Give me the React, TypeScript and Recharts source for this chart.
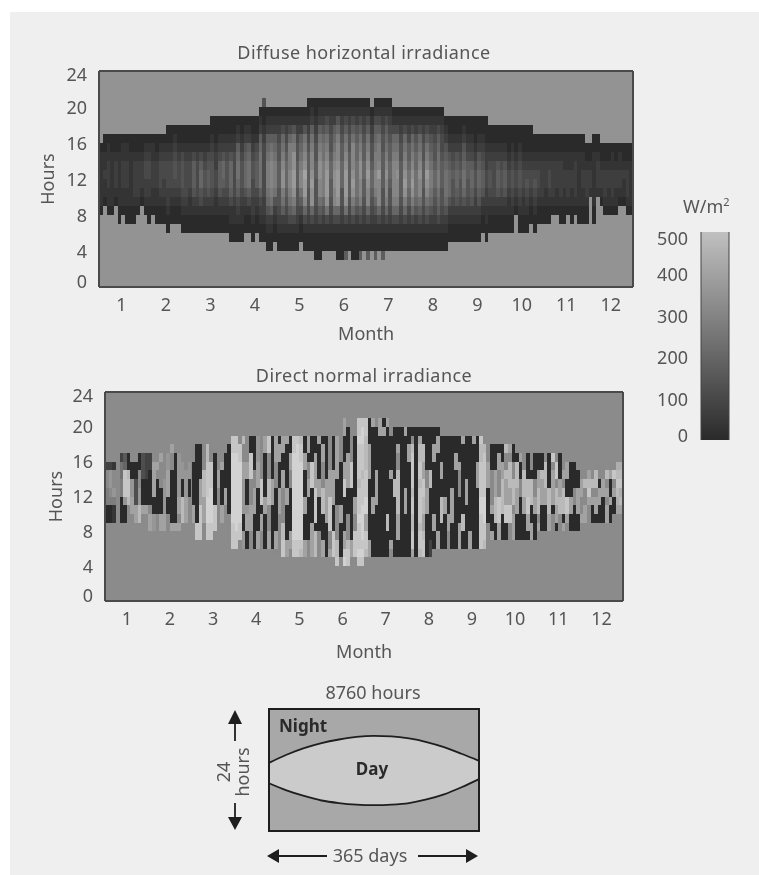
import { Area, AreaChart, Bar, BarChart, CartesianGrid, Cell, ReferenceArea, XAxis, YAxis } from 'recharts'

const months = [1, 2, 3, 4, 5, 6, 7, 8, 9, 10, 11, 12]
const hourTicks = [0, 4, 8, 12, 16, 20, 24]
const scaleTicks = [0, 100, 200, 300, 400, 500]
const scaleMinorTicks = [0, 20, 40, 60, 80, 100, 120, 140, 160, 180, 200, 220, 240, 260, 280, 300, 320, 340, 360, 380, 400, 420, 440, 460, 480, 500]

// each string is one column of cells, from the lowest hour upwards
// '.' is night, a hex digit is the irradiance in steps of 34 W/m2 (diffuse) or 40 W/m2 (direct)
const diffuseFirstHour = 3
const diffuseStep = 34
const diffuseJan = ['.....01111110.....', '......01121100....', '.....011222110....', '.....011111100....', '......01222100....', '....0011111100....', '.....011222110....', '....0011222110....', '....0011111100....', '....0012222100....', '.....012222100....', '......01222100....']
const diffuseFeb = ['.....012233210....', '....0012233210....', '.....011222110....', '....0011222100....', '....0012333210....', '....0012233210....', '...001223332100...', '....00123332100...', '....00123443210...', '....00123332100...', '...001234443100...', '...001233332100...']
const diffuseMar = ['...001123332100...', '...001245553100...', '...001233332100...', '...001346653100...', '...001234432100...', '...001245543100...', '...0012344432100..', '...0011233221000..', '...0012455532100..', '...0012356642100..', '...0012344432100..', '..00113566642100..']
const diffuseApr = ['..00112333332100..', '..00123567765210..', '..00112344432100..', '...0012466654210..', '...0013577765210..', '..00122334432100..', '...0012355543100..', '..001235777765210.', '..0012233333321004', '.0012467888765210.', '.0012578999875210.', '..001247888765210.']
const diffuseMay = ['.0012344555443210.', '.0012578aa9876310.', '.0012345666543210.', '.0013578998886310.', '.001368abbaa87410.', '.0012344555443210.', '..001357998765210.', '.001369bbca987410.', '.00123445555432100', '.00136aaba99875210', '000123444554432100', '000135799aa9875210']
const diffuseJun = ['.00124688887764210', '.00137abbba9875310', '.00123455665443210', '.0013699aa98765210', '000136abbba9986410', '000123446665543210', '500137abbba9875310', '.00123455555443210', '0001368aba99975310', '000124677776654210', '500135899aa9875310', '.00123455665543210']
const diffuseJul = ['50013699aba9875310', '.0012345665443210.', '500124689988765310', '.00136999b98875310', '500123445555443210', '.00136899a98765310', '.00123445665543210', '.0013689999876310.', '.00136899a9876310.', '.0012345555443210.', '.001368aba9876310.', '.0012356776553210.']
const diffuseAug = ['.001368aba9876310.', '.0012467776654210.', '.00135799a9876310.', '.0012344555443210.', '.0013579ab9875310.', '.0012467887654210.', '.0012345665443210.', '.0013567887765310.', '.0012344555433210.', '.001246777654210..', '..00124666542100..', '..00123445432100..']
const diffuseSep = ['..00124566542100..', '..00123445432100..', '..00124677654210..', '..00123445532100..', '..00124566532100..', '..00122344321000..', '..00124566542100..', '...0012455432100..', '..00112233221000..', '...001234432100...', '...001233332100...', '...001245542100...']
const diffuseOct = ['...001234432100...', '...001245542100...', '...001123321000...', '...001234432100...', '.....0123321000...', '...001234432100...', '...001123321000...', '...001234321000...', '....00123321000...', '...00123432100....', '....0012332100....', '....0012222100....']
const diffuseNov = ['....0011222100....', '....0012332100....', '.....012222100....', '.....011222100....', '....0012222100....', '....0011221100....', '.....012221100....', '....0011221100....', '.....012222100....', '....0011111100....', '....0011221100....', '....001222100.....']
const diffuseDec = ['.......122100.....', '....0011111100....', '.......1222100....', '......0122100.....', '.....01222100.....', '.....01122100.....', '.....01222110.....', '.....01122100.....', '......0122110.....', '......0112100.....', '.....01222100.....', '.....01111100.....']

const directFirstHour = 4
const directStep = 40
const directJan = ['.....0077882.....', '.....0078992.....', '.....1179881.....', '.......888.......', '.....00077662....', '.....009ddd54....', '.....88cddc00....', '.....8aa9900.....', '.....aa33300.....', '.....cc998800....', '.....8a000333....', '......a000222....']
const directFeb = ['....aa8000022....', '....9900aaaa.....', '....8800008a.....', '....aa000888a....', '....aa9999888....', '....8800aaa99....', '....a00000088a...', '....a00000000....', '....a8aa99999....', '.....ccc0099.....', '.....aaa999......', '......880099.....']
const directMar = ['.....aa0000088...', '...dd000000000...', '...ddddaaa0000...', '...88aaaccc888...', '...ddeeeddddcc...', '...ddeeeeddd88...', '....ddd000000....', '....88888aa......', '.....aa0000a.....', '......8aa0000....', '....8800000000...', '..dddeeeeeeeedd..']
const directApr = ['..ddeeeeeeeeedd..', '..8ddeeeeeeedd8..', '..99009999aa88c..', '..00aa9000aa888..', '..88aaa888ddd00..', '..0000aaa880000..', '..aa00000aaa999..', '..88aa0ddd88888..', '..0000aa00000aa..', '..aa888ccc888dd..', '..00000aaa00000..', '.8aa00000888aaa..']
const directMay = ['.88888aaa000aa0.', '.ddcc8888aa00aa.', '.aa0000aa00000a.', '.8aa0000088aa00.', '.ddeeeeeeeeeedd.', '.ddeeeeeeeeeeed.', '.cdeeeeeeeeeddc.', '.aa000aa000aa00.', '.8800000aa880aa.', '.aaaa0000ddd000.', '.ccc0ddddaaaa00.', '.8880000aa0000a.']
const directJun = ['.aa000ccc888aa0.', '.0000aaaaa00000.', '.a88ddddaaa8888.', '.ddd000aaaa0000.', 'dcc8888000aaaaa.', '.0000aa00000888.', 'edaa0000ddaa000aa', 'ddc888000aaaa000.', '.aa000000ddd888.', '.ddd88aa0000000.', 'dedddedddcddddedd', 'dedeeeedddcdddeed']
const directJul = ['.cddaaeedddccccdd', '.aa0000000aaaa000', '.00000aa00000000a', '.000000aaaa000008', '.00000000000000aa', '.00000000000000a0', '.000cc0000000000a', '.8a0000000a0000.', '.0000000cc000000.', '.00aaaccccc88a00.', '.000000000000000.', '.00000aaa000000a.']
const directAug = ['.00000000000aa00.', '.addccddcddddc80.', '.000000000000000.', '.cddcddddcddcca0.', '.ddcaaccddaacc00.', '.00000aaa8800000.', '.22000000cc00000.', '..00aa000000aa00.', '..aa000000000aa0.', '..000ccc00aa000..', '..0000aa0000000..', '..88aa000000000..']
const directSep = ['..000aaaa000000..', '..000000000aa00..', '..aaa000888a000..', '..00cc00000000a..', '..00000aaa00000..', '..aa00000000000..', '..000000000000a..', '..0000000aaa000..', '..ddddeeddddccd..', '..cddeeedddddc8..', '...880000aaa88...', '...a00a8888000...']
const directOct = ['...00cccaaa000...', '...aaddd888aa0...', '...000ccccaa00...', '...00ddaaac88c...', '...88ddaaccc8a...', '...aaa8ccc8800...', '...000aaaccc0....', '...000008800a....', '...000aaccc88....', '...0aaddcc000....', '...aa00ccc088....', '...000aa88000....']
const directNov = ['....a8cccaa00....', '....000aaac00....', '....000aaccc8....', '....aaccc0000....', '....880aaaa8d....', '....0aacc8dd8....', '....88ccaa000....', '....a0ccc8a8.....', '....8add00aa.....', '....00aa0000.....', '....00088000.....', '....00aaa00......']
const directDec = ['.....a88aa8......', '.....aa88c.......', '.......adca.....', '.....00a8c......', '.....0aa8cc8.....', '.....00aa088.....', '.....000aa88.....', '.....aa8a8c......', '.....00a00a8.....', '.....800a8d8.....', '......abcdcb.....', '......acbdcb.....']

const diffuseColumns = [diffuseJan, diffuseFeb, diffuseMar, diffuseApr, diffuseMay, diffuseJun, diffuseJul, diffuseAug, diffuseSep, diffuseOct, diffuseNov, diffuseDec].flat()
const directColumns = [directJan, directFeb, directMar, directApr, directMay, directJun, directJul, directAug, directSep, directOct, directNov, directDec].flat()

// sunrise and sunset of the little sketch, hours at each month edge
const sketchMonths = [0, 1, 2, 3, 4, 5, 6, 7, 8, 9, 10, 11, 12]
const sketchSunrise = [9.4, 8.0, 6.9, 6.0, 5.5, 5.2, 5.1, 5.2, 5.5, 6.2, 7.2, 8.6, 10.2]
const sketchSunset = [13.4, 15.0, 16.3, 17.3, 18.0, 18.5, 18.7, 18.6, 18.2, 17.5, 16.5, 15.2, 13.8]

const FONT = '"Noto Sans", sans-serif'
const TEXT = '#555'
const FRAME = '#4a4a4a'

function grey(watts: number) {
  const g = Math.round(42 + (watts / 500) * 150)
  return `rgb(${g},${g},${g})`
}

function cellColor(cell: string, step: number) {
  return cell === '.' || cell === '' ? 'transparent' : grey(parseInt(cell, 16) * step)
}

function hourTick(shift: (v: number) => number, right: number) {
  return ({ y, payload }: any) => (
    <text x={right} y={y + shift(payload.value) + 6.5} textAnchor="end" fontSize={18} fill={TEXT} fontFamily={FONT}>
      {payload.value}
    </text>
  )
}

function HeatChart({ columns, firstHour, step, title, titleX, titleY, top, height, plotLeft, plotRight, plotTop, axisHeight, nightFill, tickLabelRight, tickLen, hoursX, monthOffset }: any) {
  const rows = 18
  const hourKeys = Array.from({ length: rows }, (_, r) => `h${r}`)
  const data = columns.map((col: string, i: number) => {
    const row: any = { month: 0.5 + (i + 0.5) / 12, base: firstHour }
    hourKeys.forEach((k) => (row[k] = 1))
    return row
  })
  const width = 660
  // a barSize at or above the column pitch gets shrunk by recharts, so stay just under it
  const colWidth = (plotRight - plotLeft) / columns.length - 0.001

  return (
    <div style={{ position: 'absolute', left: 0, top, shapeRendering: 'crispEdges' }}>
      <BarChart width={width} height={height} data={data} margin={{ top: plotTop, right: width - plotRight, bottom: 0, left: 0 }} barSize={colWidth}>
        <CartesianGrid horizontal={false} vertical={false} fill={nightFill} />
        <XAxis
          dataKey="month"
          type="number"
          domain={[0.5, 12.5]}
          ticks={months}
          height={axisHeight}
          axisLine={false}
          tickLine={false}
          tickMargin={5}
          interval={0}
          tick={{ fontSize: 18, fill: TEXT, fontFamily: FONT }}
          label={{ value: 'Month', position: 'insideBottom', offset: monthOffset, fontSize: 18, fill: TEXT, fontFamily: FONT }}
        />
        <XAxis xAxisId="topIn" orientation="top" mirror type="number" domain={[0.5, 12.5]} ticks={months} tick={false} tickSize={3} stroke={FRAME} strokeWidth={1.5} height={1} />
        <XAxis xAxisId="bottomIn" orientation="bottom" mirror type="number" domain={[0.5, 12.5]} ticks={months} tick={false} tickSize={3} stroke={FRAME} strokeWidth={1.5} height={1} />
        <YAxis
          type="number"
          domain={[0, 24]}
          ticks={hourTicks}
          width={plotLeft}
          axisLine={false}
          tickLine={false}
          interval={0}
          tick={hourTick((v) => (v === 24 ? 3 : v === 0 ? -6 : 0), tickLabelRight)}
          label={{ value: 'Hours', angle: -90, position: 'insideLeft', offset: hoursX, fontSize: 18, fill: TEXT, fontFamily: FONT, style: { textAnchor: 'middle' } }}
        />
        <YAxis yAxisId="leftIn" orientation="left" mirror domain={[0, 24]} ticks={hourTicks} tick={false} tickSize={tickLen} stroke={FRAME} strokeWidth={1.5} width={1} />
        <YAxis yAxisId="rightIn" orientation="right" mirror domain={[0, 24]} ticks={hourTicks} tick={false} tickSize={tickLen} stroke={FRAME} strokeWidth={1.5} width={1} />
        <Bar dataKey="base" stackId="day" fill="transparent" isAnimationActive={false} />
        {hourKeys.map((key, r) => (
          <Bar key={key} dataKey={key} stackId="day" isAnimationActive={false}>
            {columns.map((col: string, i: number) => (
              <Cell key={i} fill={cellColor(col.charAt(r), step)} />
            ))}
          </Bar>
        ))}
        <text x={titleX} y={titleY} textAnchor="middle" fontSize={18} letterSpacing={0.45} fill={TEXT} fontFamily={FONT}>
          {title}
        </text>
      </BarChart>
    </div>
  )
}

function ColorBar() {
  return (
    <div style={{ position: 'absolute', left: 640, top: 190 }}>
      <BarChart width={110} height={270} data={[{ name: 'W/m2', top: 500 }]} margin={{ top: 42, right: 21, bottom: 20, left: 0 }} barCategoryGap={0}>
        <defs>
          <linearGradient id="wattScale" x1="0" y1="0" x2="0" y2="1">
            <stop offset="0%" stopColor={grey(500)} />
            <stop offset="100%" stopColor={grey(0)} />
          </linearGradient>
        </defs>
        <XAxis dataKey="name" hide height={0} />
        <YAxis
          type="number"
          domain={[0, 500]}
          ticks={scaleTicks}
          width={61}
          axisLine={false}
          tickLine={false}
          interval={0}
          tick={hourTick((v) => (v === 500 ? 6 : v === 0 ? -5 : 1), 48)}
        />
        <YAxis yAxisId="leftMinor" orientation="left" mirror domain={[0, 500]} ticks={scaleMinorTicks} tick={false} tickSize={1.5} stroke="#444" width={1} />
        <YAxis yAxisId="rightMinor" orientation="right" mirror domain={[0, 500]} ticks={scaleMinorTicks} tick={false} tickSize={1.5} stroke="#444" width={1} />
        <Bar dataKey="top" fill="url(#wattScale)" isAnimationActive={false} />
        <text x={43} y={23} fontSize={18} fill={TEXT} fontFamily={FONT}>
          W/m<tspan dy={-7} fontSize={11}>2</tspan>
        </text>
      </BarChart>
    </div>
  )
}

function Sketch() {
  const data = sketchMonths.map((m, i) => ({ m, band: [sketchSunrise[i], sketchSunset[i]] }))
  const ink = '#1e1e1e'
  return (
    <div style={{ position: 'absolute', left: 210, top: 680 }}>
      <AreaChart width={300} height={190} data={data} margin={{ top: 29, right: 31, bottom: 39, left: 59 }}>
        <CartesianGrid horizontal={false} vertical={false} fill="#a8a8a8" />
        <XAxis dataKey="m" type="number" domain={[0, 12]} hide />
        <YAxis type="number" domain={[0, 24]} hide />
        <Area dataKey="band" type="monotone" fill="#cbcbcb" fillOpacity={1} stroke={ink} strokeWidth={1.8} isAnimationActive={false} />
        <ReferenceArea x1={0} x2={12} y1={0} y2={24} fill="none" stroke={ink} strokeWidth={2} fillOpacity={0} />
        <text x={163} y={19} textAnchor="middle" fontSize={18} fill={TEXT} fontFamily={FONT}>8760 hours</text>
        <text x={69} y={52} fontSize={17} fontWeight={700} fill="#2a2a2a" fontFamily={FONT}>Night</text>
        <text transform="translate(20,92) rotate(-90)" textAnchor="middle" fontSize={18} fill={TEXT} fontFamily={FONT}>24</text>
        <text transform="translate(39,92) rotate(-90)" textAnchor="middle" fontSize={18} fill={TEXT} fontFamily={FONT}>hours</text>
        <text x={160} y={182} textAnchor="middle" fontSize={18} fill={TEXT} fontFamily={FONT}>365 days</text>
        <path d="M25 61V38" stroke={ink} strokeWidth={1.8} />
        <path d="M25 30L18 44H32Z" fill={ink} />
        <path d="M25 123V143" stroke={ink} strokeWidth={1.8} />
        <path d="M25 150L18 137H32Z" fill={ink} />
        <path d="M65 176H117" stroke={ink} strokeWidth={1.8} />
        <path d="M57 176L69 169V183Z" fill={ink} />
        <path d="M208 176H260" stroke={ink} strokeWidth={1.8} />
        <path d="M268 176L256 169V183Z" fill={ink} />
      </AreaChart>
      {/* the area is painted above the chart's own svg children, so this one sits on top */}
      <svg width={300} height={190} style={{ position: 'absolute', left: 0, top: 0, pointerEvents: 'none' }}>
        <text x={162} y={95} textAnchor="middle" fontSize={17} fontWeight={700} fill="#2a2a2a" fontFamily={FONT}>Day</text>
      </svg>
    </div>
  )
}

export default function App() {
  return (
    <div style={{ position: 'absolute', left: 0, top: 0, width: 759, height: 875, background: '#fff', overflow: 'hidden' }}>
      <div style={{ position: 'absolute', left: 10, top: 12, width: 749, height: 863, background: '#efefef' }} />
      <div style={{ position: 'absolute', left: 0, top: 0, width: 759, height: 875, filter: 'blur(0.5px)' }}>
        <HeatChart
          columns={diffuseColumns}
          firstHour={diffuseFirstHour}
          step={diffuseStep}
          title="Diffuse horizontal irradiance"
          titleX={364}
          titleY={59}
          top={0}
          height={345}
          plotLeft={99.2}
          plotRight={633}
          plotTop={71}
          axisHeight={58}
          nightFill="#939393"
          tickLabelRight={87}
          tickLen={11}
          hoursX={48}
          monthOffset={5}
        />
        <HeatChart
          columns={directColumns}
          firstHour={directFirstHour}
          step={directStep}
          title="Direct normal irradiance"
          titleX={364}
          titleY={22}
          top={360}
          height={310}
          plotLeft={105.2}
          plotRight={623}
          plotTop={32}
          axisHeight={69}
          nightFill="#8b8b8b"
          tickLabelRight={93}
          tickLen={11}
          hoursX={56}
          monthOffset={12}
        />
        <ColorBar />
        <Sketch />
      </div>
    </div>
  )
}
